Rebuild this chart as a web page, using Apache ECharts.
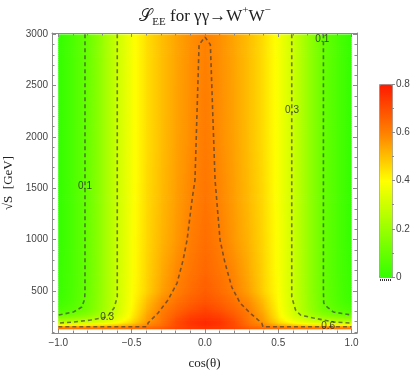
<!DOCTYPE html>
<html>
<head>
<meta charset="utf-8">
<script src="https://cdn.jsdelivr.net/npm/echarts@6/dist/echarts.min.js"></script>
<style>
  html, body { margin: 0; padding: 0; background: #fff; }
  #chart { width: 420px; height: 377px; }
</style>
</head>
<body>
<div id="chart"></div>
<script>
// columns of the density grid: cos(theta)
const cosValues = [-1.0, -0.9, -0.8, -0.7, -0.6, -0.5, -0.4, -0.3, -0.2, -0.1, 0.0,
                   0.1, 0.2, 0.3, 0.4, 0.5, 0.6, 0.7, 0.8, 0.9, 1.0];
// rows of the density grid: sqrt(s) in GeV
const sqrtS = [125, 150, 165, 180, 200, 230, 270, 320, 400, 500, 700, 1000, 1500, 2000, 3000];

// S_EE, one row per sqrt(s)
const see125  = [0.66,0.66,0.66,0.66,0.66,0.67,0.68,0.70,0.72,0.74,0.75,0.74,0.72,0.70,0.68,0.67,0.66,0.66,0.66,0.66,0.66];
const see150  = [0.60,0.60,0.60,0.60,0.61,0.62,0.63,0.66,0.71,0.74,0.75,0.74,0.71,0.66,0.63,0.62,0.61,0.60,0.60,0.60,0.60];
const see165  = [0.47,0.48,0.49,0.51,0.53,0.56,0.60,0.64,0.70,0.74,0.76,0.74,0.70,0.64,0.60,0.56,0.53,0.51,0.49,0.48,0.47];
const see180  = [0.34,0.36,0.38,0.41,0.45,0.50,0.58,0.63,0.70,0.75,0.77,0.75,0.70,0.63,0.58,0.50,0.45,0.41,0.38,0.36,0.34];
const see200  = [0.27,0.29,0.31,0.34,0.39,0.46,0.56,0.62,0.70,0.75,0.77,0.75,0.70,0.62,0.56,0.46,0.39,0.34,0.31,0.29,0.27];
const see230  = [0.19,0.21,0.24,0.29,0.35,0.44,0.55,0.615,0.69,0.74,0.76,0.74,0.69,0.615,0.55,0.44,0.35,0.29,0.24,0.21,0.19];
const see270  = [0.10,0.13,0.17,0.24,0.32,0.42,0.54,0.61,0.67,0.72,0.74,0.72,0.67,0.61,0.54,0.42,0.32,0.24,0.17,0.13,0.10];
const see320  = [0.05,0.08,0.125,0.21,0.305,0.41,0.52,0.60,0.65,0.69,0.72,0.69,0.65,0.60,0.52,0.41,0.305,0.21,0.125,0.08,0.05];
const see400  = [0.02,0.06,0.115,0.205,0.30,0.40,0.50,0.58,0.625,0.665,0.69,0.665,0.625,0.58,0.50,0.40,0.30,0.205,0.115,0.06,0.02];
const see500  = [0.01,0.055,0.11,0.20,0.30,0.395,0.47,0.545,0.60,0.64,0.67,0.64,0.60,0.545,0.47,0.395,0.30,0.20,0.11,0.055,0.01];
const see700  = [0.01,0.05,0.105,0.20,0.30,0.39,0.465,0.53,0.585,0.62,0.65,0.62,0.585,0.53,0.465,0.39,0.30,0.20,0.105,0.05,0.01];
const see1000 = [0.00,0.05,0.105,0.20,0.30,0.39,0.46,0.515,0.56,0.605,0.635,0.605,0.56,0.515,0.46,0.39,0.30,0.20,0.105,0.05,0.00];
const see1500 = [0.00,0.05,0.105,0.20,0.30,0.385,0.455,0.505,0.55,0.59,0.62,0.59,0.55,0.505,0.455,0.385,0.30,0.20,0.105,0.05,0.00];
const see2000 = [0.00,0.05,0.105,0.20,0.30,0.385,0.45,0.50,0.545,0.58,0.61,0.58,0.545,0.50,0.45,0.385,0.30,0.20,0.105,0.05,0.00];
const see3000 = [0.00,0.05,0.105,0.20,0.30,0.385,0.45,0.50,0.54,0.575,0.598,0.575,0.54,0.50,0.45,0.385,0.30,0.20,0.105,0.05,0.00];
const heatRows = [see125, see150, see165, see180, see200, see230, see270, see320,
                  see400, see500, see700, see1000, see1500, see2000, see3000];

// contour lines [cos, sqrt(s)]
const contour01Left  = [[-0.818,3000],[-0.818,508],[-0.82,420],[-0.84,342],[-0.898,293],[-1.0,264]];
const contour01Right = [[0.808,3000],[0.808,508],[0.81,381],[0.834,342],[0.877,293],[1.0,264]];
const contour03Left  = [[-0.598,3000],[-0.598,440],[-0.62,332],[-0.667,245],[-0.78,215],[-0.898,196],[-1.0,186]];
const contour03Right = [[0.592,3000],[0.592,440],[0.618,313],[0.652,264],[0.741,235],[0.877,196],[1.0,186]];
const contour06 = [[-1.0,150],[-0.395,150],[-0.388,186],[-0.32,284],[-0.252,410],[-0.19,576],[-0.149,800],
                   [-0.122,995],[-0.088,1385],[-0.068,1580],[-0.04,2900],[0.0,2974],[0.037,2900],
                   [0.069,1580],[0.103,995],[0.137,771],[0.183,537],[0.24,381],[0.308,284],[0.387,186],
                   [0.396,150],[1.0,150]];
// contour labels [cos, sqrt(s), text]
const contourLabels = [[-0.818,1521,'0.1'],[0.80,2954,'0.1'],[0.594,2262,'0.3'],[-0.667,245,'0.3'],[0.84,156,'0.6']];

// ticks
const xMajorTicks = [-1, -0.5, 0, 0.5, 1];
const xMinorTicks = [-0.9,-0.8,-0.7,-0.6,-0.4,-0.3,-0.2,-0.1,0.1,0.2,0.3,0.4,0.6,0.7,0.8,0.9];
const yMajorTicks = [500, 1000, 1500, 2000, 2500, 3000];
const yMinorTicks = [100,200,300,400,600,700,800,900,1100,1200,1300,1400,1600,1700,1800,1900,
                     2100,2200,2300,2400,2600,2700,2800,2900];

const palette = ['#33ff00', '#99ff00', '#ffff00', '#ff8000', '#ff1a00'];
const vMax = 0.8;
const frameColor = '#8a8a8a';
const labelColor = '#444';

const xRange = [-1.043, 1.037];
const yRange = [89, 3013];

function toColor(v) {
  return echarts.color.lerp(Math.min(1, Math.max(0, v / vMax)), palette);
}

const cells = [];
for (let j = 0; j < sqrtS.length - 1; j++) {
  for (let i = 0; i < cosValues.length - 1; i++) {
    cells.push([cosValues[i], sqrtS[j], cosValues[i + 1], sqrtS[j + 1], i, j]);
  }
}

// each cell is shaded between the read values at its corners
function renderCell(params, api) {
  const i = api.value(4), j = api.value(5);
  const lo = heatRows[j], hi = heatRows[j + 1];
  const p0 = api.coord([api.value(0), api.value(1)]);
  const p1 = api.coord([api.value(2), api.value(3)]);
  const w = p1[0] - p0[0];
  const h = p0[1] - p1[1];
  const n = Math.max(1, Math.ceil(h / 2));
  const lastCol = i === cosValues.length - 2;
  const children = [];
  for (let k = 0; k < n; k++) {
    const t = (k + 0.5) / n;
    const vl = lo[i] + (hi[i] - lo[i]) * t;
    const vr = lo[i + 1] + (hi[i + 1] - lo[i + 1]) * t;
    const stops = [0, 0.25, 0.5, 0.75, 1].map(f => ({ offset: f, color: toColor(vl + (vr - vl) * f) }));
    const bottomEdge = j === 0 && k === 0;
    children.push({
      type: 'rect',
      shape: {
        x: p0[0], y: p0[1] - (k + 1) * h / n,
        width: w + (lastCol ? 0 : 0.8), height: h / n + (bottomEdge ? 0 : 0.8)
      },
      style: { fill: new echarts.graphic.LinearGradient(0, 0, 1, 0, stops) }
    });
  }
  return { type: 'group', children: children };
}

function contourSeries(data) {
  return {
    type: 'line',
    data: data,
    showSymbol: false,
    silent: true,
    z: 3,
    lineStyle: { color: 'rgba(55,55,55,0.65)', width: 1.6, type: [4, 3] }
  };
}

const tickLabel = { fontSize: 10, color: labelColor, fontFamily: 'Liberation Sans' };

function xAxisPart(position, ticks, len, withLabels, withLine) {
  return {
    type: 'value', gridIndex: 0, position: position, z: 10,
    min: xRange[0], max: xRange[1],
    axisLine: { show: withLine, onZero: false, lineStyle: { color: frameColor, width: 1 } },
    axisTick: { show: true, inside: true, length: len, customValues: ticks, lineStyle: { color: frameColor } },
    axisLabel: withLabels ? Object.assign({
      customValues: ticks, margin: 5,
      formatter: v => (v < 0 ? '\u2212' : '') + Math.abs(v).toFixed(1)
    }, tickLabel) : { show: false },
    splitLine: { show: false }
  };
}

function yAxisPart(position, ticks, len, withLabels, withLine) {
  return {
    type: 'value', gridIndex: 0, position: position, z: 10,
    min: yRange[0], max: yRange[1],
    axisLine: { show: withLine, onZero: false, lineStyle: { color: frameColor, width: 1 } },
    axisTick: { show: true, inside: true, length: len, customValues: ticks, lineStyle: { color: frameColor } },
    axisLabel: withLabels ? Object.assign({
      customValues: ticks, margin: 4, formatter: v => String(v)
    }, tickLabel) : { show: false },
    splitLine: { show: false }
  };
}

const xAxes = [
  xAxisPart('bottom', xMajorTicks, 4, true, true),
  xAxisPart('bottom', xMinorTicks, 2.5, false, false),
  xAxisPart('top', xMajorTicks, 4, false, true),
  xAxisPart('top', xMinorTicks, 2.5, false, false)
];
xAxes[0].name = 'cos(\u03b8)';
xAxes[0].nameLocation = 'middle';
xAxes[0].nameGap = 24;
xAxes[0].nameTextStyle = { fontSize: 13, color: '#222', fontFamily: 'Liberation Serif' };

const yAxes = [
  yAxisPart('left', yMajorTicks, 4, true, true),
  yAxisPart('left', yMinorTicks, 2.5, false, false),
  yAxisPart('right', yMajorTicks, 4, false, true),
  yAxisPart('right', yMinorTicks, 2.5, false, false)
];
yAxes[0].name = '\u221aS  [GeV]';
yAxes[0].nameLocation = 'middle';
yAxes[0].nameGap = 36;
yAxes[0].nameTextStyle = { fontSize: 13, color: '#222', fontFamily: 'Liberation Serif' };

// colour bar axis
xAxes.push({ type: 'value', gridIndex: 1, show: false, min: 0, max: 1 });
yAxes.push({
  type: 'value', gridIndex: 1, position: 'right', min: 0, max: vMax, interval: 0.2, z: 10,
  axisLine: { show: false, onZero: false },
  axisTick: { show: true, length: 3, lineStyle: { color: frameColor } },
  minorTick: { show: true, splitNumber: 2, length: 2, lineStyle: { color: frameColor } },
  axisLabel: Object.assign({ margin: 4, formatter: v => (v === 0 ? '0' : v.toFixed(1)) }, tickLabel),
  splitLine: { show: false }
});

const chart = echarts.init(document.getElementById('chart'), null, { renderer: 'canvas' });

chart.setOption({
  animation: false,
  backgroundColor: '#fff',
  grid: [
    { left: 52, top: 33, width: 305, height: 300, outerBoundsMode: 'none', containLabel: false },
    { left: 379, top: 84, width: 13, height: 193, outerBoundsMode: 'none', containLabel: false }
  ],
  xAxis: xAxes,
  yAxis: yAxes,
  visualMap: {
    type: 'continuous',
    min: 0, max: vMax,
    seriesIndex: [],
    left: 379, top: 84,
    itemWidth: 13, itemHeight: 193,
    padding: 0,
    calculable: false,
    text: null,
    showLabel: false,
    borderColor: '#999', borderWidth: 1,
    inRange: { color: palette }
  },
  graphic: [
    {
      type: 'text',
      x: 205, y: 5,
      style: {
        text: '{s|\ud835\udcae}{sub|EE}{n| for \u03b3\u03b3\u2192W}{sup|+}{n|W}{sup|\u2212}',
        align: 'center',
        rich: {
          s: { fontSize: 17, fontFamily: 'DejaVu Serif', fill: '#222', lineHeight: 20, verticalAlign: 'bottom' },
          sub: { fontSize: 11, fontFamily: 'Liberation Serif', fill: '#222', lineHeight: 20, verticalAlign: 'bottom', padding: [0, 0, -3, 0] },
          n: { fontSize: 17, fontFamily: 'Liberation Serif', fill: '#222', lineHeight: 20, verticalAlign: 'bottom' },
          sup: { fontSize: 11, fontFamily: 'Liberation Serif', fill: '#222', lineHeight: 20, verticalAlign: 'top' }
        }
      }
    },
    {
      // small out-of-range swatch under the colour bar
      type: 'line',
      shape: { x1: 380, y1: 280, x2: 392, y2: 280 },
      style: { stroke: '#333', lineWidth: 2, lineDash: [1, 1] }
    }
  ],
  series: [
    {
      type: 'custom',
      xAxisIndex: 0, yAxisIndex: 0,
      renderItem: renderCell,
      data: cells,
      encode: { x: [0, 2], y: [1, 3] },
      silent: true,
      clip: true,
      z: 1
    },
    contourSeries(contour01Left),
    contourSeries(contour01Right),
    contourSeries(contour03Left),
    contourSeries(contour03Right),
    contourSeries(contour06),
    {
      type: 'scatter',
      data: contourLabels,
      symbolSize: 0,
      silent: true,
      z: 4,
      label: {
        show: true, position: 'inside',
        formatter: p => p.value[2],
        fontSize: 10, color: '#222', fontFamily: 'Liberation Sans'
      }
    }
  ]
});
</script>
</body>
</html>
